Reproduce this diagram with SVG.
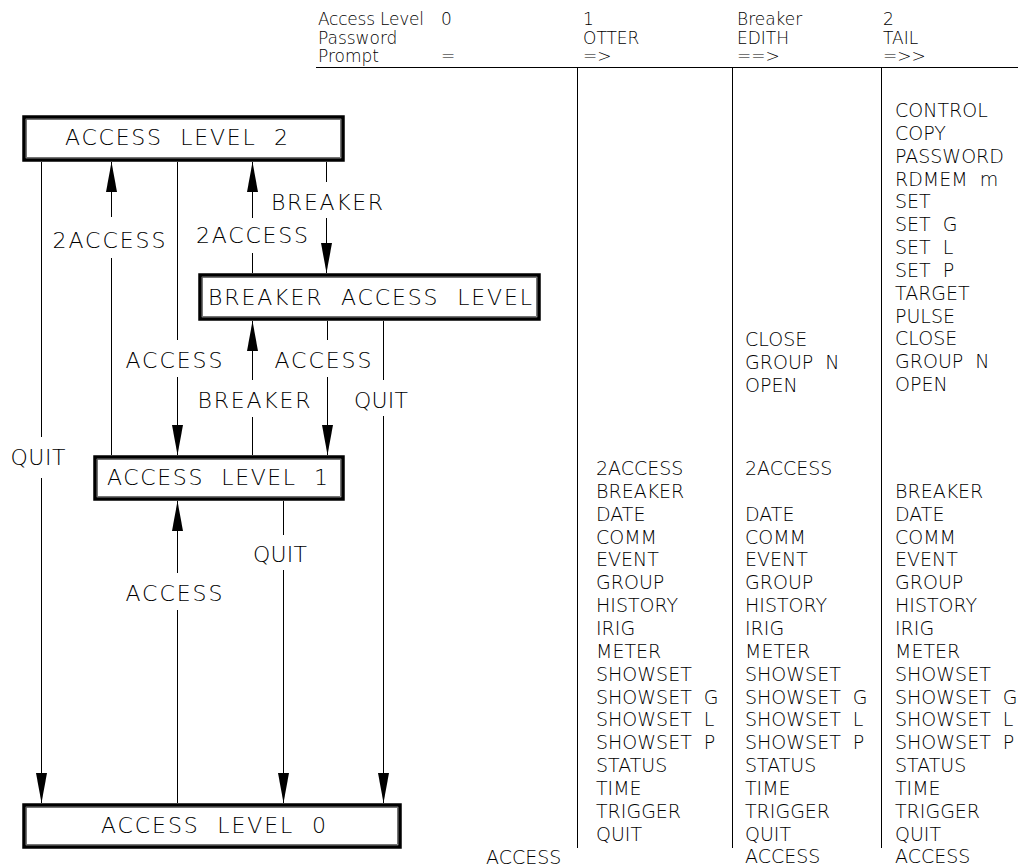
<svg xmlns="http://www.w3.org/2000/svg" width="1018" height="867" viewBox="0 0 1018 867">
<style>
text{font-family:"DejaVu Sans","Liberation Sans",sans-serif;font-weight:200;fill:#000;white-space:pre}
.lbl{font-size:22px;text-anchor:middle}
.tbl{font-size:19px}
.hdr{font-size:17px}
.box{fill:#fff;stroke:#000;stroke-width:3.5}
.inner{fill:none;stroke:#555;stroke-width:0.8}
.conn{fill:none;stroke:#000;stroke-width:1;marker-end:url(#arr)}
.rule{stroke:#000;stroke-width:1;fill:none}
</style>
<defs>
<marker id="arr" markerUnits="userSpaceOnUse" markerWidth="31" markerHeight="12" refX="30" refY="5.5" orient="auto">
<path d="M0,0 L30,5.5 L0,11 Z" fill="#000"/>
</marker>
</defs>
<rect width="1018" height="867" fill="#fff"/>

<g id="table">
<path class="rule" d="M316,67.5 H1018 M577.5,67 V848 M732.5,67 V848 M881.5,67 V848"/>
<g class="hdr">
<text x="318" y="25" textLength="106">Access Level</text>
<text x="318" y="43.5">Password</text>
<text x="318" y="62">Prompt</text>
<text x="441" y="25">0</text>
<text x="441" y="62">=</text>
<text x="583" y="25">1</text>
<text x="583" y="43.5">OTTER</text>
<text x="583" y="62">=&gt;</text>
<text x="737" y="25">Breaker</text>
<text x="737" y="43.5">EDITH</text>
<text x="737" y="62">==&gt;</text>
<text x="883" y="25">2</text>
<text x="883" y="43.5">TAIL</text>
<text x="883" y="62">=&gt;&gt;</text>
</g>
<g class="tbl">
<text x="486" y="864">ACCESS</text>
<text xml:space="preserve"><tspan x="596" y="475">2ACCESS</tspan><tspan x="596" y="497.85">BREAKER</tspan><tspan x="596" y="520.7">DATE</tspan><tspan x="596" y="543.55">COMM</tspan><tspan x="596" y="566.4">EVENT</tspan><tspan x="596" y="589.25">GROUP</tspan><tspan x="596" y="612.1">HISTORY</tspan><tspan x="596" y="634.95">IRIG</tspan><tspan x="596" y="657.8">METER</tspan><tspan x="596" y="680.65">SHOWSET</tspan><tspan x="596" y="703.5">SHOWSET  G</tspan><tspan x="596" y="726.35">SHOWSET  L</tspan><tspan x="596" y="749.2">SHOWSET  P</tspan><tspan x="596" y="772.05">STATUS</tspan><tspan x="596" y="794.9">TIME</tspan><tspan x="596" y="817.75">TRIGGER</tspan><tspan x="596" y="840.6">QUIT</tspan></text>
<text xml:space="preserve"><tspan x="745" y="346">CLOSE</tspan><tspan x="745" y="369">GROUP  N</tspan><tspan x="745" y="392">OPEN</tspan></text>
<text xml:space="preserve"><tspan x="745" y="475">2ACCESS</tspan><tspan x="745" y="520.7">DATE</tspan><tspan x="745" y="543.55">COMM</tspan><tspan x="745" y="566.4">EVENT</tspan><tspan x="745" y="589.25">GROUP</tspan><tspan x="745" y="612.1">HISTORY</tspan><tspan x="745" y="634.95">IRIG</tspan><tspan x="745" y="657.8">METER</tspan><tspan x="745" y="680.65">SHOWSET</tspan><tspan x="745" y="703.5">SHOWSET  G</tspan><tspan x="745" y="726.35">SHOWSET  L</tspan><tspan x="745" y="749.2">SHOWSET  P</tspan><tspan x="745" y="772.05">STATUS</tspan><tspan x="745" y="794.9">TIME</tspan><tspan x="745" y="817.75">TRIGGER</tspan><tspan x="745" y="840.6">QUIT</tspan><tspan x="745" y="863.45">ACCESS</tspan></text>
<text xml:space="preserve"><tspan x="895" y="117">CONTROL</tspan><tspan x="895" y="139.83">COPY</tspan><tspan x="895" y="162.67">PASSWORD</tspan><tspan x="895" y="185.5">RDMEM  m</tspan><tspan x="895" y="208.33">SET</tspan><tspan x="895" y="231.17">SET  G</tspan><tspan x="895" y="254">SET  L</tspan><tspan x="895" y="276.83">SET  P</tspan><tspan x="895" y="299.67">TARGET</tspan><tspan x="895" y="322.5">PULSE</tspan><tspan x="895" y="345.33">CLOSE</tspan><tspan x="895" y="368.17">GROUP  N</tspan><tspan x="895" y="391">OPEN</tspan></text>
<text xml:space="preserve"><tspan x="895" y="497.85">BREAKER</tspan><tspan x="895" y="520.7">DATE</tspan><tspan x="895" y="543.55">COMM</tspan><tspan x="895" y="566.4">EVENT</tspan><tspan x="895" y="589.25">GROUP</tspan><tspan x="895" y="612.1">HISTORY</tspan><tspan x="895" y="634.95">IRIG</tspan><tspan x="895" y="657.8">METER</tspan><tspan x="895" y="680.65">SHOWSET</tspan><tspan x="895" y="703.5">SHOWSET  G</tspan><tspan x="895" y="726.35">SHOWSET  L</tspan><tspan x="895" y="749.2">SHOWSET  P</tspan><tspan x="895" y="772.05">STATUS</tspan><tspan x="895" y="794.9">TIME</tspan><tspan x="895" y="817.75">TRIGGER</tspan><tspan x="895" y="840.6">QUIT</tspan><tspan x="895" y="863.45">ACCESS</tspan></text>
</g>
</g>

<g id="connectors">
<path class="conn" d="M41.5,162 V437 M41.5,478 V803"/>
<path class="conn" d="M111.5,455 V258 M111.5,217 V162"/>
<path class="conn" d="M177.5,162 V340 M177.5,377 V455"/>
<path class="conn" d="M252.5,273 V253 M252.5,218 V162"/>
<path class="conn" d="M326.5,162 V182 M326.5,218 V273"/>
<path class="conn" d="M252.5,455 V417 M252.5,380 V321"/>
<path class="conn" d="M327.5,321 V340 M327.5,377 V455"/>
<path class="conn" d="M383.5,321 V380 M383.5,416 V803"/>
<path class="conn" d="M177.5,803 V610 M177.5,573 V501"/>
<path class="conn" d="M283.5,501 V535 M283.5,570 V803"/>
<g class="lbl">
<text x="38" y="465" textLength="55">QUIT</text>
<text x="109" y="248" textLength="113">2ACCESS</text>
<text x="174" y="368" textLength="97">ACCESS</text>
<text x="252" y="243" textLength="112">2ACCESS</text>
<text x="327" y="210" textLength="112">BREAKER</text>
<text x="254" y="408" textLength="113">BREAKER</text>
<text x="323" y="368" textLength="97">ACCESS</text>
<text x="381" y="408" textLength="54">QUIT</text>
<text x="174" y="601" textLength="97">ACCESS</text>
<text x="280" y="562" textLength="54">QUIT</text>
</g>
</g>

<g id="alv2">
<rect class="box" x="24" y="117" width="319" height="43"/>
<rect class="inner" x="26.5" y="119.5" width="314" height="38"/>
<text class="lbl" x="176.5" y="145" textLength="223" xml:space="preserve">ACCESS  LEVEL  2</text>
</g>
<g id="breaker">
<rect class="box" x="200" y="275" width="339" height="44"/>
<rect class="inner" x="202.5" y="277.5" width="334" height="39"/>
<text class="lbl" x="370" y="305" textLength="324" xml:space="preserve">BREAKER  ACCESS  LEVEL</text>
</g>
<g id="alv1">
<rect class="box" x="95" y="457" width="248" height="42"/>
<rect class="inner" x="97.5" y="459.5" width="243" height="37"/>
<text class="lbl" x="217.5" y="485" textLength="221" xml:space="preserve">ACCESS  LEVEL  1</text>
</g>
<g id="alv0">
<rect class="box" x="24" y="805" width="376" height="42"/>
<rect class="inner" x="26.5" y="807.5" width="371" height="37"/>
<text class="lbl" x="213.5" y="833" textLength="225" xml:space="preserve">ACCESS  LEVEL  0</text>
</g>
</svg>
